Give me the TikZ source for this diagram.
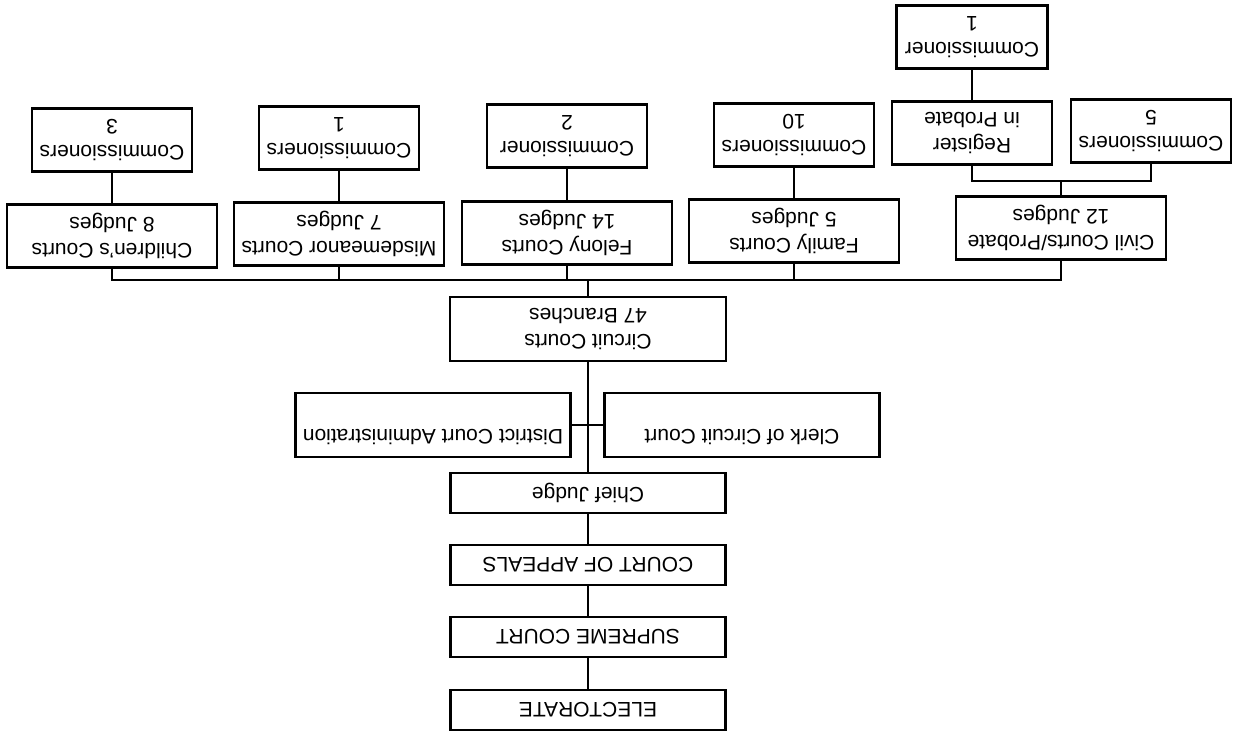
\documentclass[tikz,border=0pt]{standalone}
\usepackage{fontspec}
\setmainfont{Liberation Sans}
\begin{document}
\begin{tikzpicture}[x=0.5pt,y=-0.5pt,rotate=180,transform shape,
  every node/.style={font=\fontsize{10.5}{12.8}\selectfont},
  box/.style={draw,line width=1.1pt,inner sep=0pt,fill=white},
  rowbox/.style={box,minimum width=137.5pt,minimum height=20pt},
  sidebox/.style={box,minimum width=137.5pt,minimum height=32pt,text height=8pt,text depth=12.5pt},
  courtbox/.style={box,align=center,minimum width=105pt,minimum height=31.5pt},
  commbox/.style={box,align=center,minimum width=80pt,minimum height=31.5pt},
  link/.style={line width=1pt}]
\useasboundingbox (0,0) rectangle (1236,734);
% the page is scanned upside down: chart drawn upright, turned by 180
\node[rowbox] (elect) at (648,24) {ELECTORATE};
\node[rowbox] (supreme) at (648,97) {SUPREME COURT};
\node[rowbox] (appeals) at (648,169) {COURT OF APPEALS};
\node[rowbox] (chief) at (648,241) {Chief Judge};
\node[sidebox] (clerk) at (494,309) {Clerk of Circuit Court};
\node[sidebox] (district) at (803,309) {District Court Administration};
\node[courtbox,minimum width=138pt,minimum height=32pt] (circuit) at (648,405) {Circuit Courts\\47 Branches};
\node[courtbox] (civil) at (175,506) {Civil Courts/Probate\\12 Judges};
\node[courtbox] (family) at (442,503) {Family Courts\\5 Judges};
\node[courtbox] (felony) at (669,501) {Felony Courts\\14 Judges};
\node[courtbox] (misd) at (897,500) {Misdemeanor Courts\\7 Judges};
\node[courtbox] (children) at (1124,498) {Children's Courts\\8 Judges};
\node[commbox] (comm5) at (85,603) {Commissioners\\5};
\node[commbox] (register) at (264,601) {Register\\in Probate};
\node[commbox] (comm10) at (442,599) {Commissioners\\10};
\node[commbox] (comm2) at (669,598) {Commissioner\\2};
\node[commbox] (comm1) at (897,596) {Commissioners\\1};
\node[commbox] (comm3) at (1124,594) {Commissioners\\3};
\node[commbox,minimum width=75.5pt] (commtop) at (264,697) {Commissioner\\1};
\coordinate (bus) at (648,454);
\coordinate (fork) at (175,553);
\draw[link] (elect.south) -- (supreme.north);
\draw[link] (supreme.south) -- (appeals.north);
\draw[link] (appeals.south) -- (chief.north);
\draw[link] (chief.south) -- (circuit.north);
\draw[link] (clerk.east) -- (district.west);
\draw[link] (circuit.south) -- (bus);
\draw[link] (civil.north) |- (bus) -| (children.north);
\foreach \c in {family,felony,misd} {\draw[link] (\c.north) -- (\c.north |- bus);}
\foreach \c/\k in {children/comm3,misd/comm1,felony/comm2,family/comm10} {\draw[link] (\c.south) -- (\k.north);}
\draw[link] (civil.south) -- (fork);
\draw[link] (register.north) |- (fork) -| (comm5.north);
\draw[link] (register.south) -- (commtop.north);
\end{tikzpicture}
\end{document}
